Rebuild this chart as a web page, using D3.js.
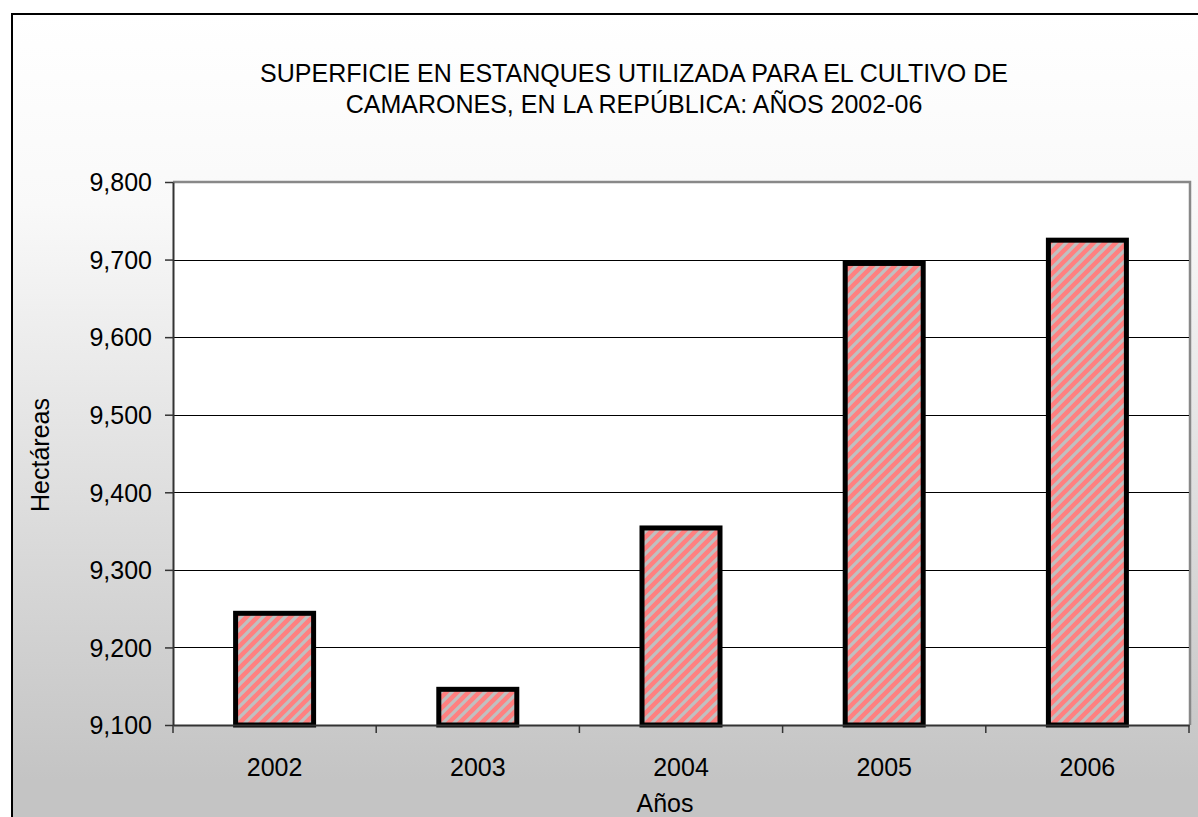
<!DOCTYPE html>
<html><head><meta charset="utf-8">
<script src="https://cdn.jsdelivr.net/npm/d3@7/dist/d3.min.js"></script>
<style>html,body{margin:0;padding:0;background:#fff;}svg{display:block;font-family:"Liberation Sans",Arial,sans-serif;}</style>
</head><body>
<script>
const categories = ["2002","2003","2004","2005","2006"];
const values = [9244, 9146, 9354, 9695, 9725];
const yTicks = [9100, 9200, 9300, 9400, 9500, 9600, 9700, 9800];
const titleLines = ["SUPERFICIE EN ESTANQUES UTILIZADA PARA EL CULTIVO DE", "CAMARONES, EN LA REPÚBLICA: AÑOS 2002-06"];
const yLabel = "Hectáreas";
const xLabel = "Años";

const W = 1198, H = 817;
const FS = 25;
const m = {left: 173, right: 1189, top: 182, bottom: 725};
const svg = d3.select("body").append("svg").attr("width", W).attr("height", H);
const defs = svg.append("defs");
const grad = defs.append("linearGradient").attr("id","bg")
  .attr("gradientUnits","userSpaceOnUse").attr("x1",0).attr("y1",13).attr("x2",0).attr("y2",780);
grad.append("stop").attr("offset","0").attr("stop-color","#ffffff");
grad.append("stop").attr("offset","0.25").attr("stop-color","#f9f9f9");
grad.append("stop").attr("offset","1").attr("stop-color","#c4c4c4");

const P = 11;
const pat = defs.append("pattern").attr("id","hatch").attr("patternUnits","userSpaceOnUse")
  .attr("width",P).attr("height",P);
pat.append("rect").attr("width",P).attr("height",P).attr("fill","#ff8080");
pat.append("path").attr("d",`M-3,3 L3,-3 M0,${P} L${P},0 M${P-3},${P+3} L${P+3},${P-3}`).attr("stroke","#c0c0c0").attr("stroke-width",3.3);

// chart background + outer border
svg.append("rect").attr("x",12).attr("y",14).attr("width",W-12).attr("height",H-14).attr("fill","url(#bg)");
svg.append("path").attr("d",`M12,${H} L12,14 L${W},14`).attr("fill","none").attr("stroke","#000").attr("stroke-width",2);

const x = d3.scaleBand().domain(categories).range([m.left, m.right]).paddingInner(0).paddingOuter(0);
const y = d3.scaleLinear().domain([9100, 9800]).range([m.bottom, m.top]);

// plot area
svg.append("rect").attr("x",m.left).attr("y",m.top).attr("width",m.right-m.left).attr("height",m.bottom-m.top).attr("fill","#fff");
svg.append("path").attr("d",`M${m.left},${m.top} L${m.right+1},${m.top} L${m.right+1},${m.bottom}`).attr("fill","none").attr("stroke","#888").attr("stroke-width",2.5);

// gridlines
svg.append("g").selectAll("line").data(yTicks.filter(t=>t>9100 && t<9800)).join("line")
  .attr("x1",m.left).attr("x2",m.right).attr("y1",d=>Math.round(y(d))+0.5).attr("y2",d=>Math.round(y(d))+0.5)
  .attr("stroke","#000").attr("stroke-width",1);

// bars
const bw = 78;
svg.append("g").selectAll("rect").data(values).join("rect")
  .attr("x",(d,i)=>x(categories[i]) + x.bandwidth()/2 - bw/2)
  .attr("y",d=>y(d))
  .attr("width",bw)
  .attr("height",d=>y(9100)-y(d))
  .attr("fill","url(#hatch)").attr("stroke","#000").attr("stroke-width",5);

// y axis
const yAxis = d3.axisLeft(y).tickValues(yTicks).tickSize(8).tickSizeOuter(0).tickFormat(d3.format(","));
const gy = svg.append("g").attr("transform",`translate(${m.left},0)`).call(yAxis);
gy.attr("font-size",FS).attr("font-family","'Liberation Sans',Arial,sans-serif");
gy.select(".domain").attr("stroke","#333").attr("stroke-width",2);
gy.selectAll(".tick line").attr("stroke","#333").attr("stroke-width",1.5);
gy.selectAll(".tick text").attr("fill","#000").attr("x",-21).attr("dy","0.35em");

// x axis
const xAxis = d3.axisBottom(x).tickSize(0).tickSizeOuter(0);
const gx = svg.append("g").attr("transform",`translate(0,${m.bottom})`).call(xAxis);
gx.attr("font-size",FS).attr("font-family","'Liberation Sans',Arial,sans-serif");
gx.select(".domain").attr("stroke","#333").attr("stroke-width",2);
gx.selectAll(".tick text").attr("fill","#000").attr("y",33);
// category boundary ticks
const bounds = categories.map(c=>x(c)).concat([m.right]);
gx.append("g").selectAll("line").data(bounds).join("line")
  .attr("x1",d=>d).attr("x2",d=>d).attr("y1",0).attr("y2",8).attr("stroke","#333").attr("stroke-width",1.5);

// titles
svg.append("g").selectAll("text").data(titleLines).join("text")
  .attr("x",634).attr("y",(d,i)=>82+i*31).attr("text-anchor","middle").attr("font-size",FS).attr("fill","#000").text(d=>d);
svg.append("text").attr("transform","translate(49,455) rotate(-90)").attr("text-anchor","middle").attr("font-size",FS).attr("fill","#000").text(yLabel);
svg.append("text").attr("x",665).attr("y",812).attr("text-anchor","middle").attr("font-size",FS).attr("fill","#000").text(xLabel);
</script>
</body></html>
